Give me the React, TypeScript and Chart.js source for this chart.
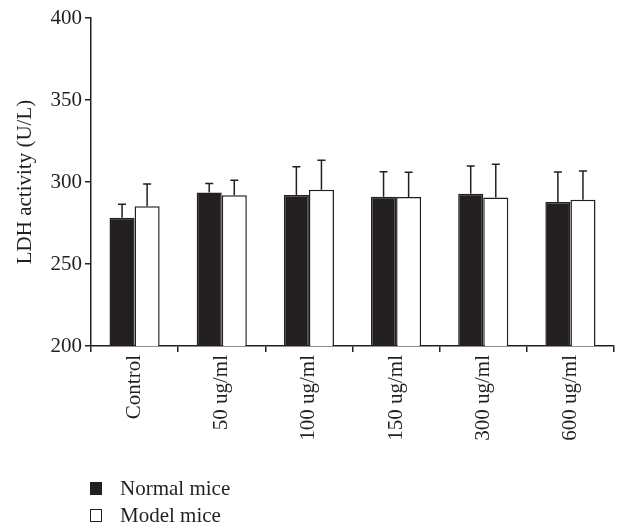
import React, { useEffect, useRef } from "react";
import { Chart, registerables } from "chart.js";

Chart.register(...registerables);

const categories = ["Control", "50 ug/ml", "100 ug/ml", "150 ug/ml", "300 ug/ml", "600 ug/ml"];
const normalMice = [278.2, 293.6, 292.0, 291.0, 292.9, 287.8];
const normalSD = [8.2, 5.5, 17.3, 15.3, 16.9, 18.3];
const modelMice = [285.2, 291.9, 295.3, 290.9, 290.5, 289.2];
const modelSD = [13.6, 9.1, 17.9, 15.0, 20.3, 17.5];
const yTicks = [200, 250, 300, 350, 400];
const seriesNames = ["Normal mice", "Model mice"];

const INK = "#231f20";
const FONT = "'Liberation Serif', 'Times New Roman', serif";

const errorBarPlugin = {
  id: "errorBars",
  afterDatasetsDraw(chart: any) {
    const ctx = chart.ctx;
    const yScale = chart.scales.y;
    const sds = [normalSD, modelSD];
    ctx.save();
    ctx.strokeStyle = INK;
    ctx.lineWidth = 1.5;
    chart.data.datasets.forEach((ds: any, di: number) => {
      const meta = chart.getDatasetMeta(di);
      meta.data.forEach((bar: any, i: number) => {
        const v = ds.data[i];
        const top = yScale.getPixelForValue(v + sds[di][i]);
        const base = yScale.getPixelForValue(v);
        const x = bar.x;
        ctx.beginPath();
        ctx.moveTo(x, base);
        ctx.lineTo(x, top);
        ctx.moveTo(x - 4, top);
        ctx.lineTo(x + 4, top);
        ctx.stroke();
      });
    });
    ctx.restore();
  },
};

export default function App() {
  const canvasRef = useRef<HTMLCanvasElement>(null);

  useEffect(() => {
    if (!canvasRef.current) return;
    const chart = new Chart(canvasRef.current, {
      type: "bar",
      data: {
        labels: categories,
        datasets: [
          {
            label: seriesNames[0],
            data: normalMice,
            backgroundColor: INK,
            borderColor: INK,
            borderWidth: 1.5,
            categoryPercentage: 0.575,
            barPercentage: 1,
          },
          {
            label: seriesNames[1],
            data: modelMice,
            backgroundColor: "#ffffff",
            borderColor: INK,
            borderWidth: 1.5,
            categoryPercentage: 0.575,
            barPercentage: 1,
          },
        ],
      },
      options: {
        responsive: false,
        animation: false,
        devicePixelRatio: 1,
        layout: { padding: { left: 0, right: 4, top: 18, bottom: 0 } },
        plugins: {
          legend: { display: false },
          tooltip: { enabled: false },
        },
        scales: {
          x: {
            offset: true,
            grid: {
              offset: true,
              drawOnChartArea: false,
              drawTicks: true,
              tickLength: 6,
              color: INK,
              lineWidth: 1.5,
            },
            border: { display: true, color: INK, width: 1.5 },
            ticks: {
              minRotation: 90,
              maxRotation: 90,
              padding: 3,
              color: INK,
              font: { family: FONT, size: 21 },
            },
            afterFit(scale: any) {
              scale.height = 182;
            },
          },
          y: {
            min: 200,
            max: 400,
            afterBuildTicks(scale: any) {
              scale.ticks = yTicks.map((v) => ({ value: v }));
            },
            grid: {
              drawOnChartArea: false,
              drawTicks: true,
              tickLength: 6,
              color: INK,
              lineWidth: 1.5,
            },
            border: { display: true, color: INK, width: 1.5 },
            ticks: {
              padding: 3,
              color: INK,
              font: { family: FONT, size: 21 },
            },
            title: {
              display: true,
              text: "LDH activity (U/L)",
              color: INK,
              font: { family: FONT, size: 21 },
              padding: { top: 13, bottom: 0 },
            },
            afterFit(scale: any) {
              scale.width = 91;
            },
          },
        },
      },
      plugins: [errorBarPlugin],
    });
    return () => chart.destroy();
  }, []);

  const legendItem = (name: string, fill: string, top: number) => (
    <div
      key={name}
      style={{
        position: "absolute",
        left: 90,
        top,
        height: 28,
        display: "flex",
        alignItems: "center",
        fontFamily: FONT,
        fontSize: 21,
        color: INK,
        whiteSpace: "nowrap",
      }}
    >
      <span
        style={{
          display: "inline-block",
          width: 10,
          height: 11,
          background: fill,
          border: `1.2px solid ${INK}`,
          marginRight: 18,
        }}
      />
      <span>{name}</span>
    </div>
  );

  return (
    <div style={{ position: "fixed", left: 0, top: 0, width: 618, height: 528, background: "#fff" }}>
      <canvas ref={canvasRef} width={618} height={528} style={{ display: "block" }} />
      {legendItem(seriesNames[0], INK, 474)}
      {legendItem(seriesNames[1], "#ffffff", 501)}
    </div>
  );
}
